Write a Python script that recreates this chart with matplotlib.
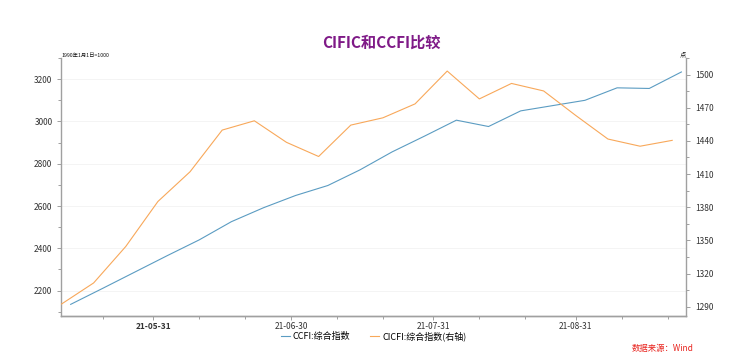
import matplotlib
matplotlib.use("Agg")
import matplotlib.pyplot as plt
import matplotlib.dates as mdates
import numpy as np
import pandas as pd

plt.rcParams['font.family'] = ['Noto Sans CJK SC', 'DejaVu Sans']

# CCFI (left axis), weekly
ccfi_dates = pd.date_range("2021-05-13", periods=20, freq="7D")
ccfi = [2135, 2211, 2288, 2365, 2440, 2526, 2592, 2650, 2697, 2771,
        2856, 2930, 3006, 2976, 3050, 3075, 3100, 3159, 3156, 3234]

# CICFI (right axis), weekly
cicfi_dates = pd.date_range("2021-05-11", periods=20, freq="7D")
cicfi = [1292.4, 1311.5, 1344.5, 1385.2, 1412.1, 1449.8, 1458.2, 1438.7, 1425.9, 1454.3,
         1460.9, 1473.5, 1503.2, 1478.0, 1492.0, 1485.2, 1463.0, 1441.7, 1435.2, 1440.5]

month_ticks = pd.to_datetime(["2021-05-31", "2021-06-30", "2021-07-31", "2021-08-31"])
minor_ticks = pd.to_datetime(["2021-05-20", "2021-06-10", "2021-06-20", "2021-07-10", "2021-07-20",
                              "2021-08-10", "2021-08-20", "2021-09-10", "2021-09-20"])

blue = '#5b9cc2'
orange = '#f8a85a'
gray = '#a0a0a0'

fig = plt.figure(figsize=(7.4, 3.61), dpi=100)
ax = fig.add_axes([0.0831, 0.1247, 0.927 - 0.0831, 0.8393 - 0.1247])
ax2 = ax.twinx()

l1, = ax.plot(ccfi_dates, ccfi, color=blue, lw=0.8)
l2, = ax2.plot(cicfi_dates, cicfi, color=orange, lw=0.8)

ax.set_xlim(pd.Timestamp("2021-05-11"), pd.Timestamp("2021-09-24"))
ax.set_ylim(2080, 3285)
ax2.set_ylim(1281.6, 1513.2)

ax.set_yticks(np.arange(2200, 3201, 200))
ax.set_yticks(np.arange(2100, 3301, 100), minor=True)
ax2.set_yticks(np.arange(1290, 1501, 30))
ax2.set_yticks(np.arange(1290, 1516, 15), minor=True)

ax.set_xticks(mdates.date2num(month_ticks))
ax.set_xticks(mdates.date2num(minor_ticks), minor=True)
ax.xaxis.set_major_formatter(mdates.DateFormatter('%y-%m-%d'))

ax.grid(axis='y', color='#f2f2f2', lw=0.6)
ax.set_axisbelow(True)

for a in (ax, ax2):
    a.spines['top'].set_visible(False)
    for s in ('left', 'right', 'bottom'):
        a.spines[s].set_color(gray)
        a.spines[s].set_linewidth(1.0)
    a.tick_params(which='both', color=gray, length=3, width=0.7, labelsize=6, labelcolor='#333333')
    a.tick_params(which='minor', length=2)
ax2.spines['left'].set_visible(False)
ax.spines['right'].set_visible(False)
ax.tick_params(axis='x', pad=1)

for i, lbl in enumerate(ax.get_xticklabels()):
    if i == 0:
        lbl.set_fontweight('bold')

fig.text(0.515, 0.883, 'CIFIC和CCFI比较', ha='center', va='center', fontsize=11,
         fontweight='bold', color='#7f1a87')
ax.text(0.0, 1.0, '1990年1月1日=1000', transform=ax.transAxes, ha='left', va='bottom',
        fontsize=3.8, color='#111111')
ax2.text(1.0, 1.0, '点', transform=ax2.transAxes, ha='right', va='bottom',
         fontsize=4.5, color='#111111')

fig.legend([l1, l2], ['CCFI:综合指数', 'CICFI:综合指数(右轴)'], loc='center',
           bbox_to_anchor=(0.505, 0.069), ncol=2, frameon=False, fontsize=6.5,
           handlelength=1.0, handletextpad=0.3, columnspacing=2.2)

fig.text(0.937, 0.036, '数据来源：Wind', ha='right', va='center', fontsize=6,
         color='#e8231d', style='italic')

fig.savefig('out.png', dpi=100)
